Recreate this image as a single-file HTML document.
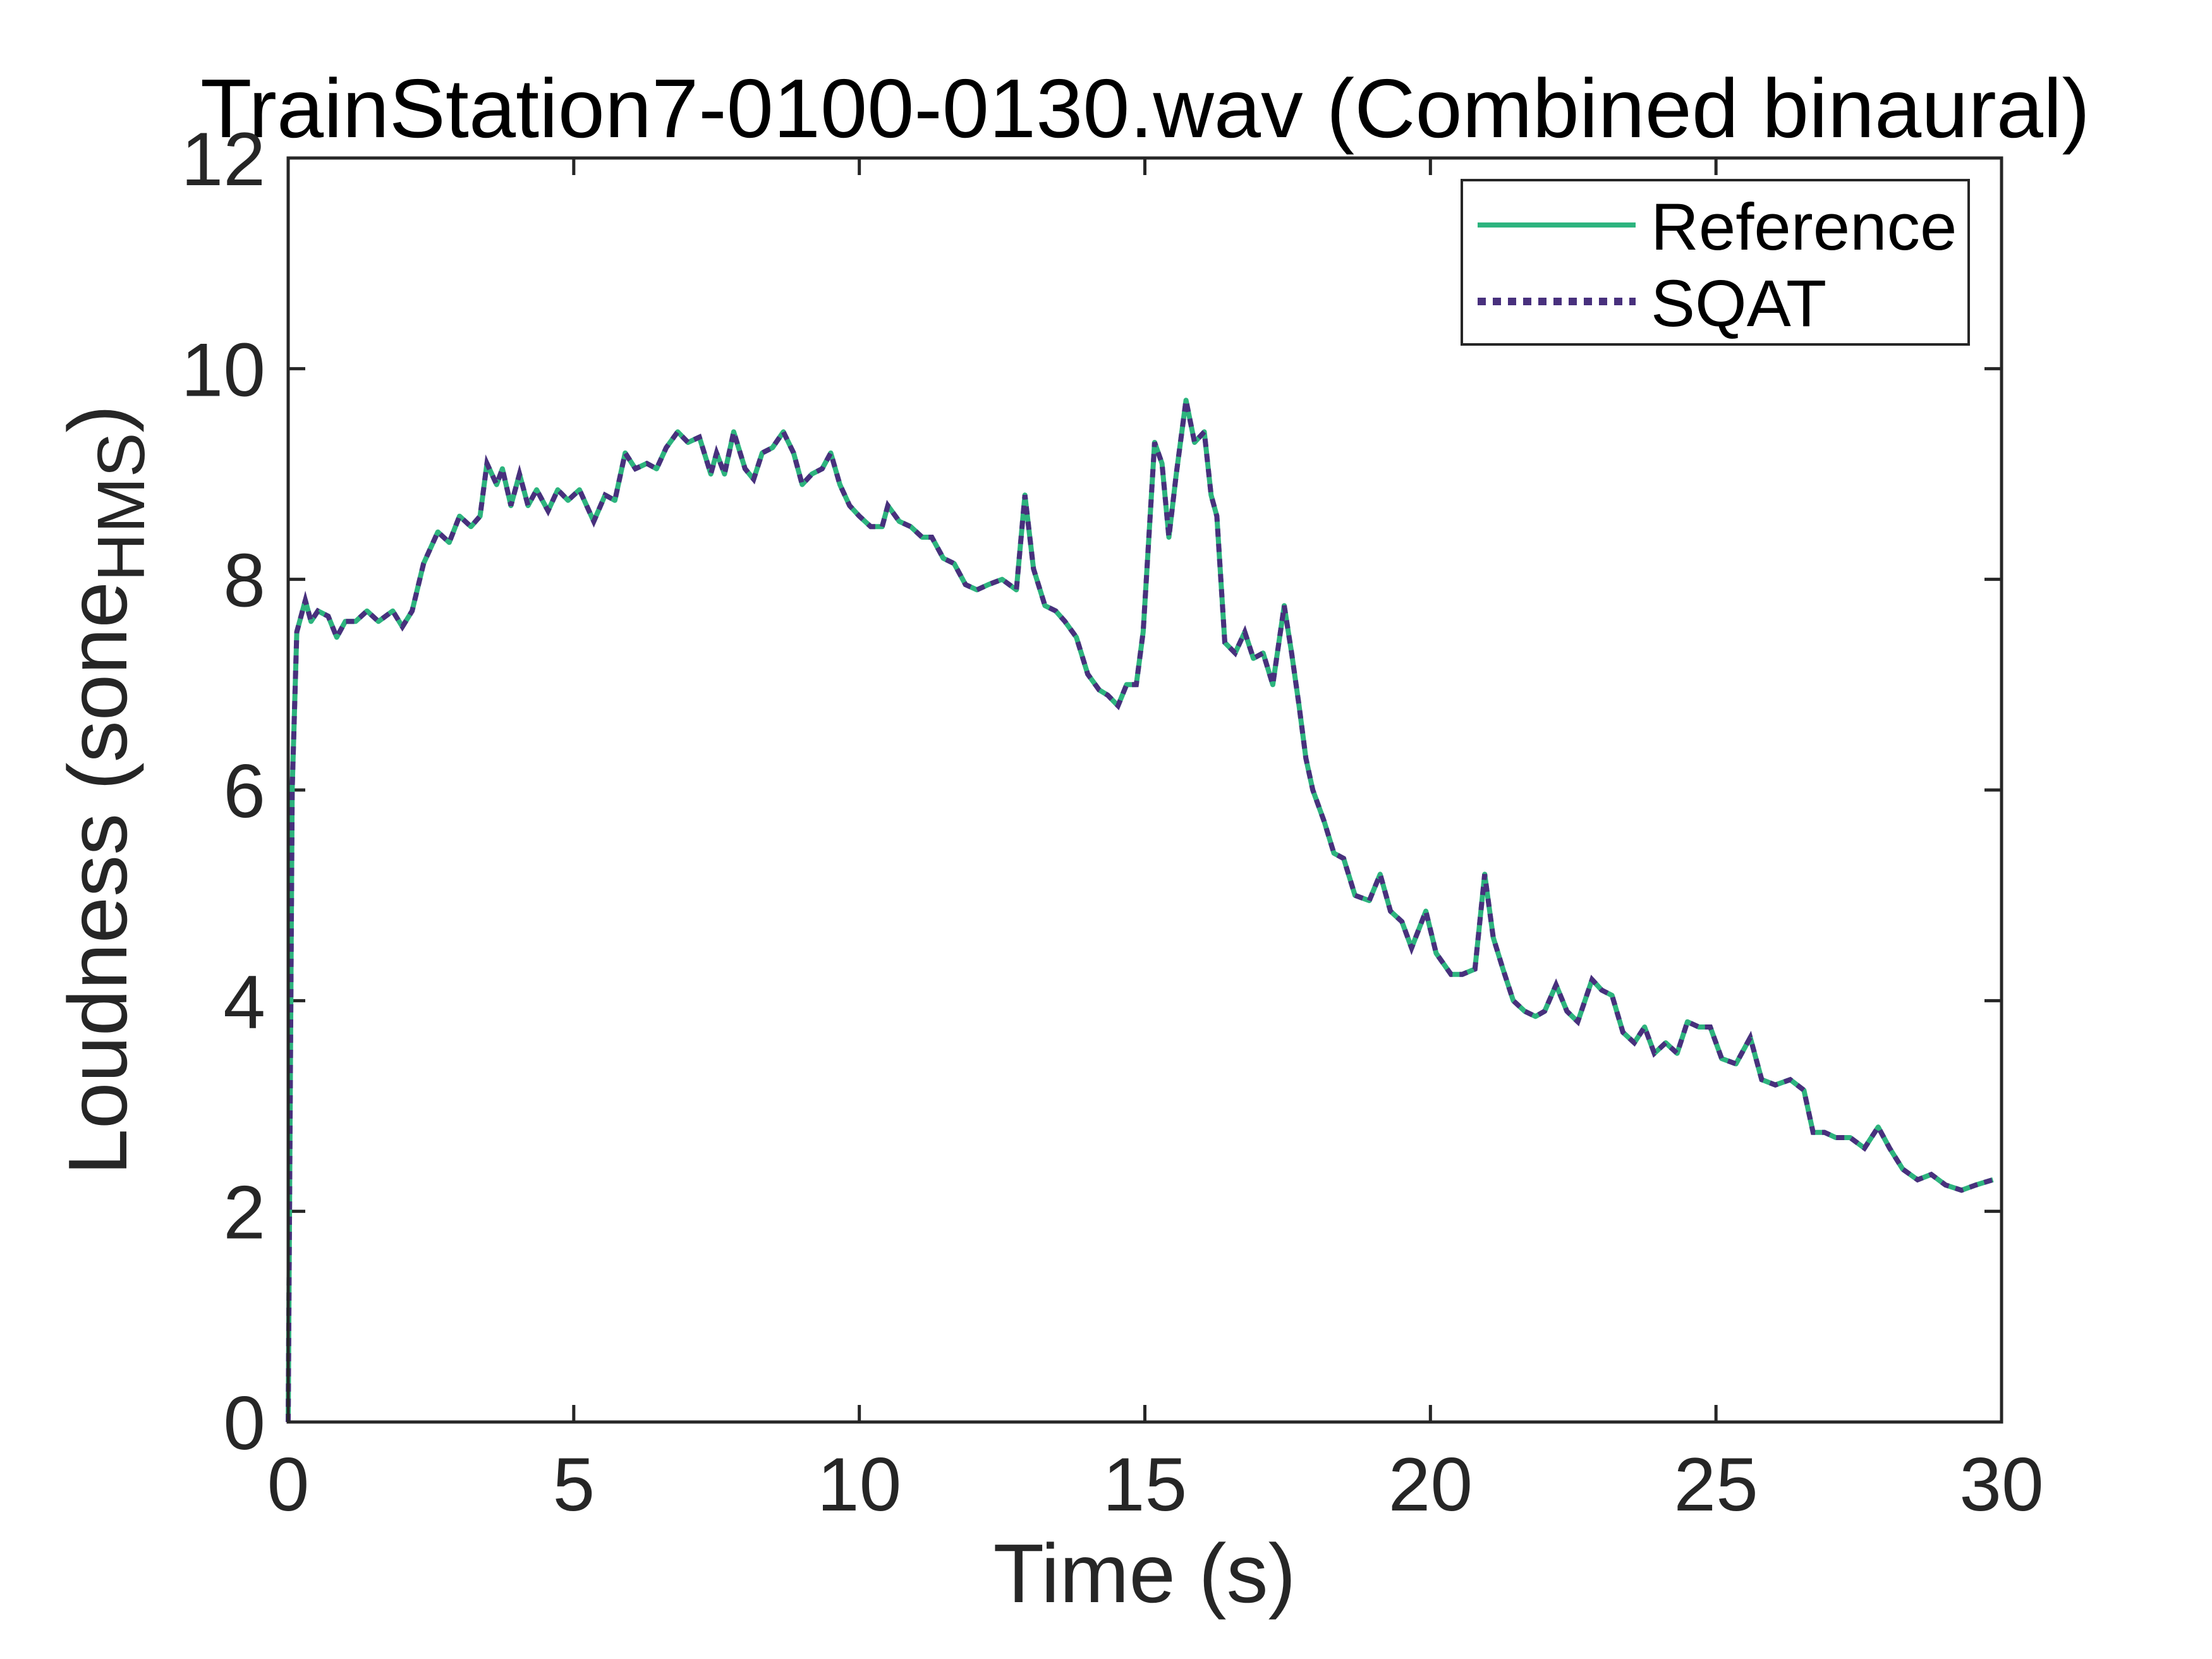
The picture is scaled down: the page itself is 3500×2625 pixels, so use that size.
<!DOCTYPE html>
<html><head><meta charset="utf-8"><style>
html,body{margin:0;padding:0;background:#fff;}
svg{display:block;font-family:"Liberation Sans",Arial,sans-serif;}
</style></head><body>
<svg id="chart" width="3500" height="2625" viewBox="0 0 3500 2625" xmlns="http://www.w3.org/2000/svg">
<rect x="0" y="0" width="3500" height="2625" fill="#fff"/>
<text x="1812" y="217" font-size="132" text-anchor="middle" textLength="2990" lengthAdjust="spacingAndGlyphs" fill="#000">TrainStation7-0100-0130.wav (Combined binaural)</text>
<g id="ticks"></g>
<g id="series"></g>
<rect x="456" y="250" width="2711" height="2000" fill="none" stroke="#262626" stroke-width="5"/>
<text x="1811" y="2535" font-size="132" text-anchor="middle" fill="#262626">Time (s)</text>
<text transform="translate(200,1250) rotate(-90)" font-size="132" text-anchor="middle" fill="#262626">Loudness (sone<tspan font-size="106" dy="28">HMS</tspan><tspan dy="-28">)</tspan></text>
<g>
<rect x="2313" y="285" width="802" height="260" fill="#fff" stroke="#262626" stroke-width="4"/>
<line x1="2338" y1="356" x2="2588" y2="356" stroke="#2db47e" stroke-width="8"/>
<text x="2612" y="395" font-size="105" fill="#000">Reference</text>
<line x1="2338" y1="477" x2="2588" y2="477" stroke="#48307d" stroke-width="12" stroke-dasharray="13 11"/>
<text x="2612" y="516" font-size="105" fill="#000">SQAT</text>
</g>
</svg>
<script>
const xTicks = [0,5,10,15,20,25,30];
const yTicks = [0,2,4,6,8,10,12];
const times = [0,0.07,0.15,0.3,0.4,0.52,0.7,0.85,1.0,1.18,1.38,1.58,1.83,2.0,2.17,2.37,2.62,2.82,3.0,3.2,3.36,3.48,3.65,3.75,3.9,4.05,4.2,4.35,4.55,4.72,4.9,5.1,5.35,5.55,5.72,5.9,6.08,6.28,6.45,6.62,6.82,7.0,7.2,7.4,7.5,7.64,7.8,8.0,8.15,8.3,8.48,8.67,8.85,9.0,9.17,9.35,9.5,9.66,9.83,10.0,10.2,10.4,10.5,10.7,10.9,11.1,11.27,11.47,11.66,11.86,12.06,12.26,12.5,12.75,12.9,13.05,13.25,13.44,13.6,13.8,14.0,14.2,14.35,14.53,14.68,14.85,14.97,15.17,15.3,15.42,15.55,15.72,15.87,16.04,16.16,16.26,16.4,16.58,16.75,16.9,17.07,17.24,17.44,17.57,17.7,17.82,17.94,18.14,18.31,18.48,18.68,18.93,19.12,19.3,19.5,19.67,19.92,20.1,20.36,20.56,20.78,20.95,21.1,21.27,21.45,21.65,21.84,22.0,22.2,22.39,22.58,22.83,23.0,23.18,23.37,23.57,23.75,23.92,24.12,24.32,24.5,24.7,24.9,25.1,25.35,25.6,25.8,26.04,26.3,26.54,26.7,26.9,27.1,27.35,27.6,27.84,28.04,28.27,28.53,28.77,29.02,29.3,29.55,29.85];
const referenceValues = [0,6,7.5,7.8,7.6,7.7,7.65,7.45,7.6,7.6,7.7,7.6,7.7,7.55,7.7,8.15,8.45,8.35,8.6,8.5,8.6,9.1,8.9,9.05,8.7,9.0,8.7,8.85,8.65,8.85,8.75,8.85,8.55,8.8,8.75,9.2,9.05,9.1,9.05,9.25,9.4,9.3,9.35,9.0,9.2,9.0,9.4,9.05,8.95,9.2,9.25,9.4,9.2,8.9,9.0,9.05,9.2,8.9,8.7,8.6,8.5,8.5,8.7,8.55,8.5,8.4,8.4,8.2,8.15,7.95,7.9,7.95,8.0,7.9,8.8,8.1,7.75,7.7,7.6,7.45,7.1,6.95,6.9,6.8,7.0,7.0,7.5,9.3,9.1,8.4,9.0,9.7,9.3,9.4,8.8,8.6,7.4,7.3,7.5,7.25,7.3,7.0,7.75,7.3,6.8,6.3,6.0,5.7,5.4,5.35,5.0,4.95,5.2,4.85,4.75,4.5,4.85,4.45,4.25,4.25,4.3,5.2,4.6,4.3,4.0,3.9,3.85,3.9,4.15,3.9,3.8,4.2,4.1,4.05,3.7,3.6,3.75,3.5,3.6,3.5,3.8,3.75,3.75,3.45,3.4,3.65,3.25,3.2,3.25,3.15,2.75,2.75,2.7,2.7,2.6,2.8,2.6,2.4,2.3,2.35,2.25,2.2,2.25,2.3];
const sqatValues = referenceValues.slice();

const X0=456, X1=3167, Y0=2250, Y1=250;
function xScale(t){return X0+(t-0)/(30-0)*(X1-X0);}
function yScale(v){return Y0-(v-0)/(12-0)*(Y0-Y1);}
const NS="http://www.w3.org/2000/svg";
const tg=document.getElementById('ticks');
xTicks.forEach(function(t){
  const x=xScale(t);
  [[Y0,Y0-27],[Y1,Y1+27]].forEach(function(p){
    const l=document.createElementNS(NS,'line');
    
    
    l.setAttribute('x1',x);l.setAttribute('x2',x);l.setAttribute('y1',p[0]);l.setAttribute('y2',p[1]);
    l.setAttribute('stroke','#262626');l.setAttribute('stroke-width','5');
    tg.appendChild(l);
  });
  const tx=document.createElementNS(NS,'text');
  
  
  tx.setAttribute('x',x);tx.setAttribute('y',2390);
  tx.setAttribute('font-size','120');tx.setAttribute('text-anchor','middle');tx.setAttribute('fill','#262626');
  tx.textContent=String(t);
  tg.appendChild(tx);
});
yTicks.forEach(function(v){
  const y=yScale(v);
  [[X0,X0+27],[X1,X1-27]].forEach(function(p){
    const l=document.createElementNS(NS,'line');
    
    
    l.setAttribute('x1',p[0]);l.setAttribute('x2',p[1]);l.setAttribute('y1',y);l.setAttribute('y2',y);
    l.setAttribute('stroke','#262626');l.setAttribute('stroke-width','5');
    tg.appendChild(l);
  });
  const tx=document.createElementNS(NS,'text');
  
  
  tx.setAttribute('x',420);tx.setAttribute('y',y+43);
  tx.setAttribute('font-size','120');tx.setAttribute('text-anchor','end');tx.setAttribute('fill','#262626');
  tx.textContent=String(v);
  tg.appendChild(tx);
});
function pathFor(vals){return vals.map(function(v,i){return (i?'L':'M')+xScale(times[i]).toFixed(1)+' '+yScale(v).toFixed(1);}).join(' ');}
const sg=document.getElementById('series');
const ref=document.createElementNS(NS,'path');


ref.setAttribute('d',pathFor(referenceValues));
ref.setAttribute('fill','none');ref.setAttribute('stroke','#2db47e');ref.setAttribute('stroke-width','8');ref.setAttribute('stroke-linejoin','round');
sg.appendChild(ref);
const sq=document.createElementNS(NS,'path');


sq.setAttribute('d',pathFor(sqatValues));
sq.setAttribute('fill','none');sq.setAttribute('stroke','#48307d');sq.setAttribute('stroke-width','8');sq.setAttribute('stroke-dasharray','13 11');
sg.appendChild(sq);
</script>
</body></html>
